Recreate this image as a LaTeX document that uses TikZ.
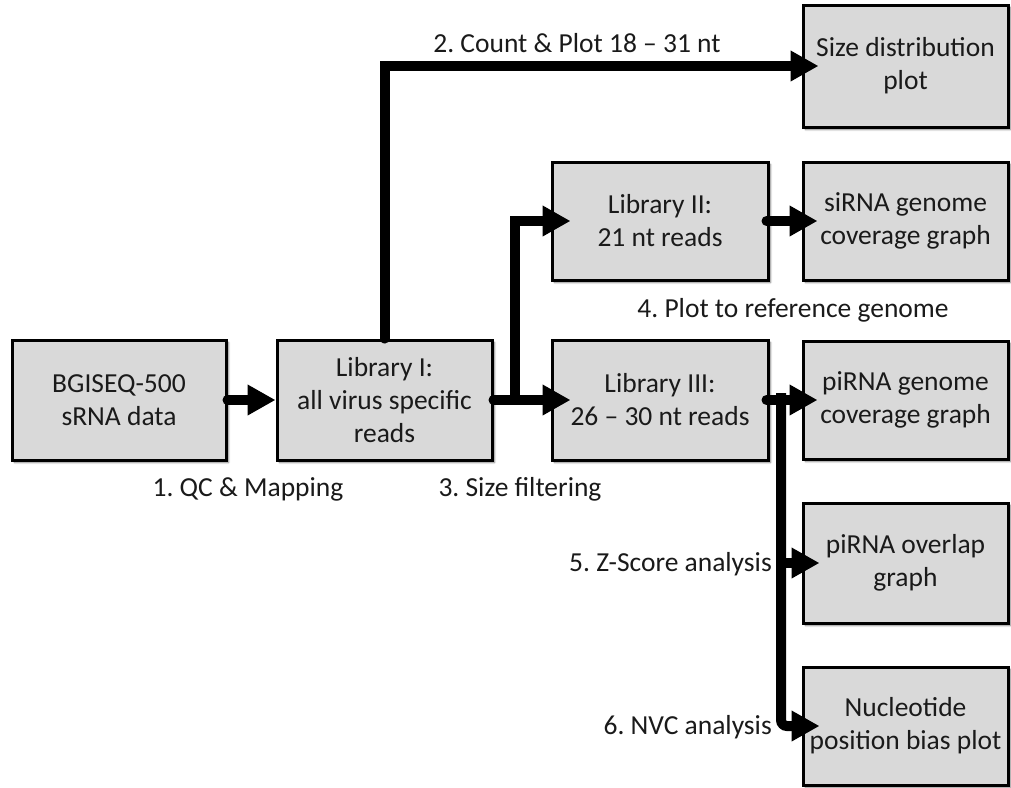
\documentclass[tikz,border=0pt]{standalone}
\usepackage{fontspec}
\setmainfont{Carlito}
\frenchspacing
\usetikzlibrary{arrows.meta,shadows.blur}
\definecolor{boxfill}{HTML}{D9D9D9}
\definecolor{txt}{HTML}{1A1A1A}
\tikzset{
  box/.style={draw=black, line width=3pt, fill=boxfill, minimum height=118pt,
    inner sep=0pt, align=center, text=txt,
    font=\fontsize{27.5}{33}\selectfont,
    blur shadow={shadow xshift=2.5pt, shadow yshift=-2.5pt, shadow blur steps=6, shadow opacity=50}},
  arr/.style={line width=10pt, line cap=round, -{Triangle[length=28pt,width=29pt]}},
  lbl/.style={text=txt, font=\fontsize{27.5}{33}\selectfont, inner sep=0pt}
}
\begin{document}
\begin{tikzpicture}[x=1pt,y=-1pt]
\useasboundingbox (0,0) rectangle (1011,787);
% boxes
\node[box, minimum width=214pt, minimum height=120pt] (bg) at (119,400) {BGISEQ-500\\sRNA data};
\node[box, minimum width=215pt, minimum height=120pt] (lib1) at (384.5,400) {Library I:\\all virus specific\\reads};
\node[box, minimum width=216pt] (lib2) at (660,221) {Library II:\\21 nt reads};
\node[box, minimum width=216pt, minimum height=120pt] (lib3) at (660,400) {Library III:\\26 -- 30 nt reads};
\node[box, minimum width=205pt, minimum height=122pt] (size) at (905.5,66) {Size distribution\\plot};
\node[box, minimum width=205pt] (sirna) at (905.5,221) {siRNA genome\\coverage graph};
\node[box, minimum width=205pt] (pigen) at (905.5,400) {piRNA genome\\coverage graph};
\node[box, minimum width=205pt, minimum height=120pt] (piover) at (905.5,563) {piRNA overlap\\graph};
\node[box, minimum width=205pt] (nuc) at (905.5,726) {Nucleotide\\position bias plot};
% junctions
\coordinate (j1) at (515,400);
\coordinate (j2) at (781,400);
% connectors
\draw[arr] (bg.east) -- (lib1.west);
\draw[arr] (lib1.north) |- ([xshift=17pt]size.west);
\draw[arr] (lib1.east) -- ([xshift=20pt]lib3.west);
\draw[arr, line cap=butt] (j1) |- ([xshift=20pt]lib2.west);
\draw[arr] ([xshift=-3pt]lib2.east) -- ([xshift=16pt]sirna.west);
\draw[arr] ([xshift=-3pt]lib3.east) -- ([xshift=16pt]pigen.west);
\draw[arr, line cap=butt, rounded corners=6pt] ([yshift=7pt]j2) |- ([xshift=18pt]nuc.west);
\draw[arr, line cap=butt] (j2 |- piover.west) -- ([xshift=18pt]piover.west);
% labels
\node[lbl] (l1) at (248,489) {1. QC \& Mapping};
\node[lbl] (l2) at (577,43) {2. Count \& Plot 18 -- 31 nt};
\node[lbl] (l3) at (520,489) {3. Size filtering};
\node[lbl] (l4) at (793,310) {4. Plot to reference genome};
\node[lbl, anchor=east] (l5) at (772,564) {5. Z-Score analysis};
\node[lbl, anchor=east] (l6) at (772,727) {6. NVC analysis};
\end{tikzpicture}
\end{document}
